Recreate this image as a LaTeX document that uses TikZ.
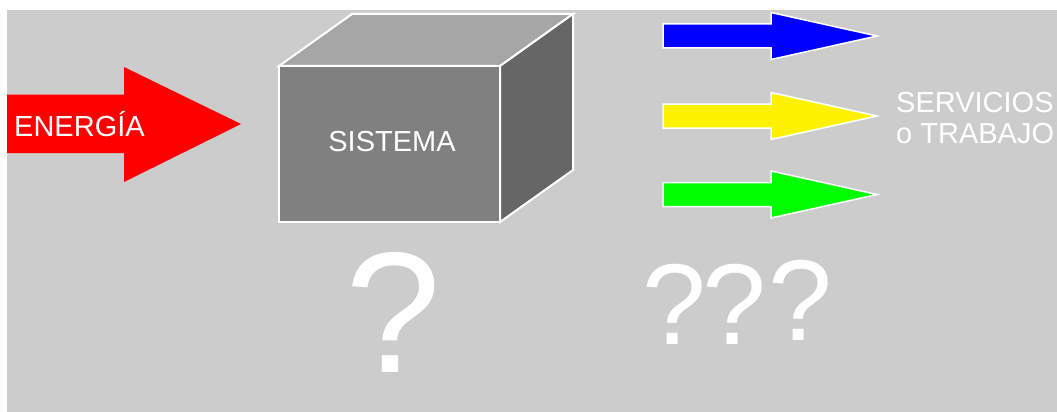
\documentclass[tikz,border=0pt]{standalone}
\usepackage{fontspec}
\setmainfont{Liberation Sans}
\definecolor{bggray}{HTML}{CCCCCC}
\definecolor{frontgray}{HTML}{808080}
\definecolor{topgray}{HTML}{A6A6A6}
\definecolor{sidegray}{HTML}{666666}
\begin{document}
\begin{tikzpicture}[x=1pt,y=-1pt,
  label/.style={text=white,inner sep=0pt,font=\fontsize{29}{31}\selectfont},
  qmark/.style={text=white,inner sep=0pt,anchor=base},
  face/.style={draw=white,line width=2pt,line join=miter},
  outarrow/.style={draw=white,line width=1.5pt,line join=miter}]
  \useasboundingbox (0,0) rectangle (1057,412);
  \fill[white] (0,0) rectangle (1057,412);
  \fill[bggray] (7,10) rectangle (1057,412);

  % incoming energy arrow
  \fill[red] (7,94.5) -- (124,94.5) -- (124,67) -- (241,124) -- (124,182)
    -- (124,153) -- (7,153) -- cycle;
  \node[label,anchor=base west] (energia) at (14,136) {ENERGÍA};

  % the system, drawn as a box in oblique view
  \filldraw[face,fill=topgray] (279,66) -- (352,14) -- (573,14) -- (500,66) -- cycle;
  \filldraw[face,fill=sidegray] (500,66) -- (573,14) -- (573,170) -- (500,222) -- cycle;
  \filldraw[face,fill=frontgray] (279,66) rectangle (500,222);
  \node[label,anchor=base] (sistema) at (392,151) {SISTEMA};

  % outgoing arrows
  \foreach \yc/\col in {36/blue, 116/yellow, 194.5/green}
    \filldraw[outarrow,fill=\col] (663,\yc-12) -- (771,\yc-12) -- (771,\yc-23.5)
      -- (877,\yc) -- (771,\yc+23.5) -- (771,\yc+12) -- (663,\yc+12) -- cycle;
  \node[label,anchor=base west] (servicios) at (896,112) {SERVICIOS};
  \node[label,anchor=base west] (trabajo) at (896,143.5) {o TRABAJO};

  % question marks
  \node[qmark,font=\fontsize{172}{172}\selectfont] (q0) at (393.5,372.7) {?};
  \node[qmark,font=\fontsize{115}{115}\selectfont] (q1) at (674.5,344) {?};
  \node[qmark,font=\fontsize{115}{115}\selectfont] (q2) at (734.5,344) {?};
  \node[qmark,font=\fontsize{115}{115}\selectfont] (q3) at (800.5,340.7) {?};
\end{tikzpicture}
\end{document}
